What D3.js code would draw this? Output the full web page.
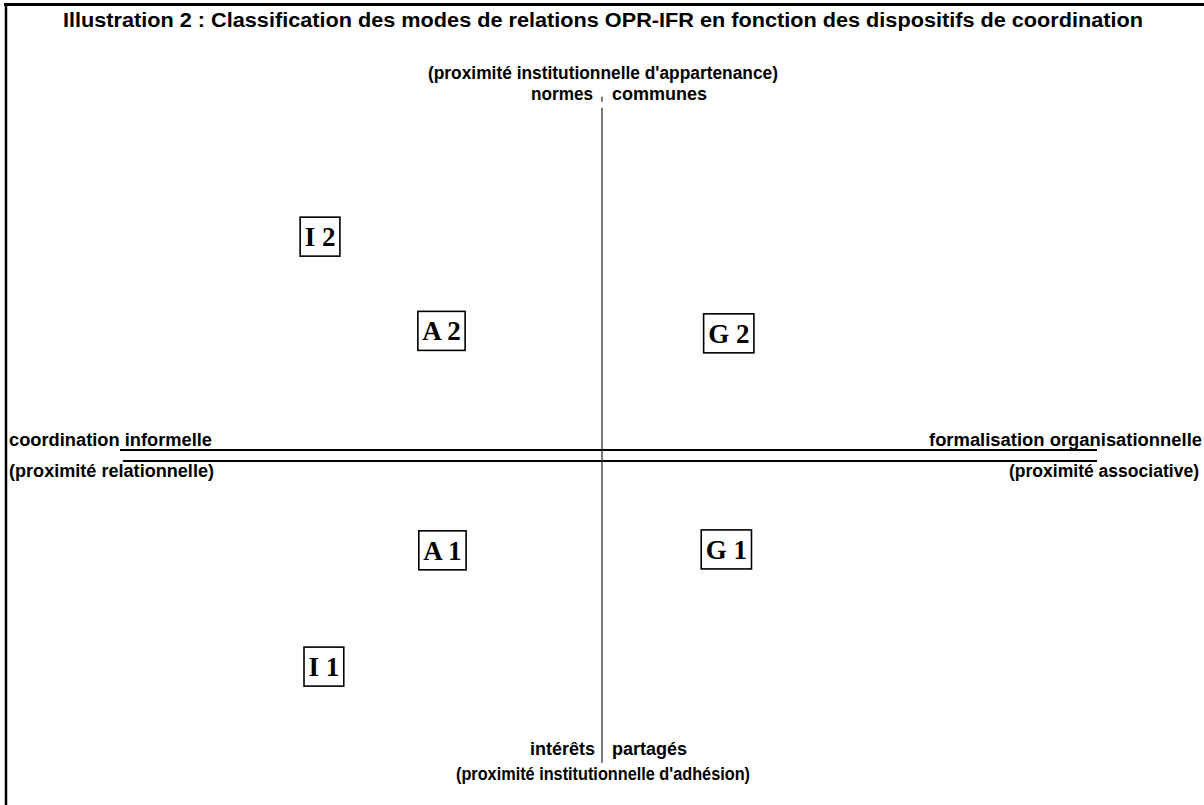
<!DOCTYPE html>
<html>
<head>
<meta charset="utf-8">
<script src="https://cdn.jsdelivr.net/npm/d3@7"></script>
<style>
  body { margin: 0; background: #fff; }
  svg { display: block; }
  .lbl { font-family: "Liberation Sans", Arial, sans-serif; font-weight: bold; font-size: 18px; fill: #000; }
  .box text { font-family: "Liberation Serif", "Times New Roman", serif; font-weight: bold; font-size: 27px; fill: #000; }
</style>
</head>
<body>
<svg id="viz" width="1204" height="805"></svg>
<script>
// modes de relations, placed on the two axes (x: informel -> formel, y: adhésion -> appartenance)
var boxLabels = ["I 2", "A 2", "G 2", "A 1", "I 1", "G 1"];
var boxX = [-0.585, -0.333, 0.263, -0.331, -0.577, 0.258];
var boxY = [0.706, 0.402, 0.394, -0.306, -0.681, -0.303];

// axis extents in the same units
var hAxisTop = [-1, 1.027];
var hAxisBottom = [-0.994, 1.027];
var vAxisSegments = [[1.157, 1.141], [1.122, -0.992]];

var title = "Illustration 2 : Classification des modes de relations OPR-IFR en fonction des dispositifs de coordination";
var topLabels = ["(proximité institutionnelle d'appartenance)", "normes", "communes"];
var bottomLabels = ["intérêts", "partagés", "(proximité institutionnelle d'adhésion)"];
var leftLabels = ["coordination informelle", "(proximité relationnelle)"];
var rightLabels = ["formalisation  organisationnelle", "(proximité associative)"];

var svg = d3.select("#viz");

var x = d3.scaleLinear().domain([-1, 1]).range([120, 1084]);
var y = d3.scaleLinear().domain([-1, 1]).range([765.5, 145.5]);

// frame (top and left edges only)
svg.append("line").attr("x1", 4).attr("x2", 1204).attr("y1", 4.5).attr("y2", 4.5)
  .attr("stroke", "#000").attr("stroke-width", 3);
svg.append("line").attr("x1", 6).attr("x2", 6).attr("y1", 3).attr("y2", 805)
  .attr("stroke", "#000").attr("stroke-width", 2.5);

// title
svg.append("text").attr("class", "lbl")
  .attr("x", 63).attr("y", 27)
  .style("font-size", "19.5px")
  .attr("textLength", 1080).attr("lengthAdjust", "spacingAndGlyphs")
  .text(title);

// horizontal double axis
svg.append("line")
  .attr("x1", x(hAxisTop[0])).attr("x2", x(hAxisTop[1]))
  .attr("y1", y(0) - 5.5).attr("y2", y(0) - 5.5)
  .attr("stroke", "#000").attr("stroke-width", 2);
svg.append("line")
  .attr("x1", x(hAxisBottom[0])).attr("x2", x(hAxisBottom[1]))
  .attr("y1", y(0) + 5.5).attr("y2", y(0) + 5.5)
  .attr("stroke", "#000").attr("stroke-width", 2);

// vertical axis
svg.selectAll(".vaxis").data(vAxisSegments).enter().append("line")
  .attr("class", "vaxis")
  .attr("x1", x(0)).attr("x2", x(0))
  .attr("y1", function(d) { return y(d[0]); })
  .attr("y2", function(d) { return y(d[1]); })
  .attr("stroke", "#333").attr("stroke-width", 1.3);

function label(txt, px, py, anchor, len) {
  var t = svg.append("text").attr("class", "lbl")
    .attr("x", px).attr("y", py)
    .attr("text-anchor", anchor)
    .text(txt);
  if (len) t.attr("textLength", len).attr("lengthAdjust", "spacingAndGlyphs");
  return t;
}

// top
label(topLabels[0], 428, 79, "start", 350);
label(topLabels[1], 531, 100, "start", 62);
label(topLabels[2], 612, 100, "start", 95);
// bottom
label(bottomLabels[0], 530, 755, "start", 65);
label(bottomLabels[1], 612, 755, "start", 75);
label(bottomLabels[2], 456, 780, "start", 294);
// left
label(leftLabels[0], 9, 446, "start", 203);
label(leftLabels[1], 9, 477, "start", 205);
// right
label(rightLabels[0], 929, 446, "start", 273);
label(rightLabels[1], 1009, 477, "start", 190);

// boxes
var boxes = svg.selectAll(".box")
  .data(boxLabels.map(function(d, i) { return {name: d, vx: boxX[i], vy: boxY[i]}; }))
  .enter().append("g")
  .attr("class", "box")
  .attr("transform", function(d) { return "translate(" + x(d.vx) + "," + y(d.vy) + ")"; });

boxes.append("text")
  .attr("text-anchor", "middle")
  .attr("y", 9.5)
  .text(function(d) { return d.name; });

boxes.insert("rect", "text")
  .each(function(d) {
    var w = d3.select(this.parentNode).select("text").node().getComputedTextLength() + 9;
    d3.select(this)
      .attr("x", -w / 2).attr("y", -19.5)
      .attr("width", w).attr("height", 39);
  })
  .attr("fill", "#fff").attr("stroke", "#000").attr("stroke-width", 1.6);
</script>
</body>
</html>
